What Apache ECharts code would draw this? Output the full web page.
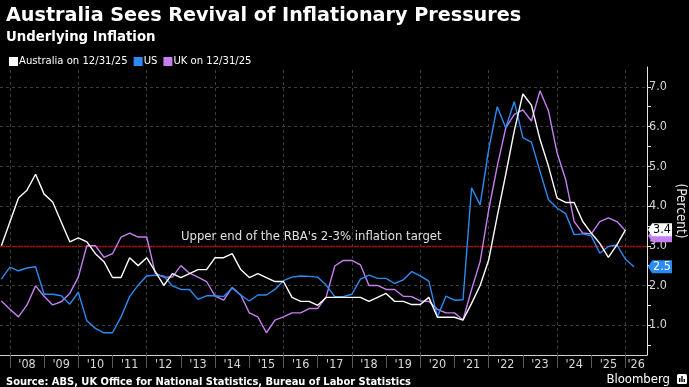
<!DOCTYPE html>
<html><head><meta charset="utf-8">
<script src="https://cdn.jsdelivr.net/npm/echarts@6/dist/echarts.min.js"></script>
<style>html,body{margin:0;padding:0;background:#000}#c{width:689px;height:387px}</style>
</head><body><div id="c"></div>
<script>
// ---- data ----
const quarterEnds = [
 '2007-09','2007-12',
 '2008-03','2008-06','2008-09','2008-12','2009-03','2009-06','2009-09','2009-12',
 '2010-03','2010-06','2010-09','2010-12','2011-03','2011-06','2011-09','2011-12',
 '2012-03','2012-06','2012-09','2012-12','2013-03','2013-06','2013-09','2013-12',
 '2014-03','2014-06','2014-09','2014-12','2015-03','2015-06','2015-09','2015-12',
 '2016-03','2016-06','2016-09','2016-12','2017-03','2017-06','2017-09','2017-12',
 '2018-03','2018-06','2018-09','2018-12','2019-03','2019-06','2019-09','2019-12',
 '2020-03','2020-06','2020-09','2020-12','2021-03','2021-06','2021-09','2021-12',
 '2022-03','2022-06','2022-09','2022-12','2023-03','2023-06','2023-09','2023-12',
 '2024-03','2024-06','2024-09','2024-12','2025-03','2025-06','2025-09','2025-12'
];
const usLatestDate = '2026-03';
const australia = [3.0,3.6,4.2,4.4,4.8,4.3,4.1,3.6,3.1,3.2,3.1,2.8,2.6,2.2,2.2,2.7,2.5,2.7,2.35,2.0,
 2.3,2.2,2.3,2.4,2.4,2.7,2.7,2.8,2.4,2.2,2.3,2.2,2.1,2.1,1.7,1.6,1.6,1.5,1.7,1.7,
 1.7,1.7,1.7,1.6,1.7,1.8,1.6,1.6,1.52,1.52,1.7,1.2,1.2,1.2,1.13,1.55,2.0,2.64,3.74,4.8,
 5.9,6.82,6.54,5.68,5.0,4.2,4.09,4.09,3.61,3.32,3.06,2.71,3.02,3.4];
const uk = [1.61,1.40,1.21,1.51,1.99,1.73,1.51,1.59,1.80,2.21,3.0,3.0,2.71,2.80,3.22,3.32,3.22,3.22,2.31,2.21,
 2.21,2.50,2.31,2.21,2.10,1.73,1.63,1.95,1.76,1.31,1.21,0.81,1.13,1.21,1.31,1.31,1.42,1.42,1.72,2.49,
 2.63,2.63,2.52,2.0,2.0,1.90,1.90,1.73,1.72,1.61,1.60,1.40,1.31,1.31,1.13,1.9,2.6,3.9,5.0,5.97,
 6.31,6.42,6.14,6.90,6.39,5.34,4.67,3.61,3.32,3.30,3.61,3.70,3.61,3.38];
const us = [2.16,2.46,2.37,2.44,2.47,1.78,1.78,1.74,1.53,1.83,1.11,0.92,0.81,0.81,1.21,1.72,2.01,2.24,2.26,2.24,
 1.99,1.90,1.90,1.65,1.74,1.74,1.72,1.93,1.76,1.61,1.76,1.76,1.90,2.12,2.21,2.24,2.23,2.21,2.01,1.72,
 1.72,1.78,2.16,2.26,2.18,2.18,2.05,2.14,2.35,2.24,2.11,1.21,1.73,1.63,1.64,4.46,4.03,5.42,6.50,5.97,
 6.63,5.72,5.61,4.88,4.16,3.95,3.81,3.28,3.30,3.25,2.81,2.98,3.02,2.66,2.47];
const seriesNames = ['Australia on 12/31/25', 'US', 'UK on 12/31/25'];
const yearLabels = ["'08","'09","'10","'11","'12","'13","'14","'15","'16","'17","'18","'19","'20","'21","'22","'23","'24","'25","'26"];
const labelYears = [2008,2009,2010,2011,2012,2013,2014,2015,2016,2017,2018,2019,2020,2021,2022,2023,2024,2025,2026];
const yLabelValues = [1,2,3,4,5,6,7];
const rbaTarget = 3;
const rbaText = "Upper end of the RBA's 2-3% inflation target";

// ---- helpers ----
const NARROW = "'Liberation Sans Narrow','Arial Narrow','DejaVu Sans Condensed','Roboto Condensed',sans-serif";
const toYear = s => { const [y, m] = s.split('-').map(Number); return y + m / 12; };
const X_MIN = 2007.71, X_MAX = 2026.63;
const Y_MIN = 0.25, Y_MAX = 7.5;
const pair = (dates, vals) => vals.map((v, i) => [toYear(dates[i]), v]);
const usDates = quarterEnds.concat([usLatestDate]);

const labelPos = labelYears.map(y => (Math.max(y, X_MIN) + Math.min(y + 1, X_MAX)) / 2);
const labelMap = {};
labelPos.forEach((p, i) => labelMap[p.toFixed(4)] = yearLabels[i]);
const tickYears = labelYears.slice();
const yTicks = []; for (let v = 0.5; v <= 7.0001; v += 0.5) yTicks.push(+v.toFixed(1));
const gridYears = labelYears.filter(y => y % 2 === 0);

const C_AUS = '#ffffff', C_US = '#2a8cf2', C_UK = '#c57ff0';

function tag(value, bg, fg, dy, showText) {
  return {
    coord: [X_MAX, value],
    symbol: 'path://M0,6 L5,0 L29,0 L29,12 L5,12 Z',
    symbolSize: [24, 13],
    symbolKeepAspect: false,
    symbolOffset: [13, dy],
    itemStyle: { color: bg },
    label: { show: showText, position: 'inside', offset: [2, 0], color: fg, fontSize: 12.5,
             fontFamily: NARROW, formatter: value.toFixed(1) }
  };
}

const chart = echarts.init(document.getElementById('c'), null, { renderer: 'canvas' });
const gridLines = [];
yLabelValues.forEach(v => gridLines.push({ yAxis: v }));
gridYears.forEach(y => gridLines.push({ xAxis: y }));
gridLines.push({ yAxis: rbaTarget, lineStyle: { color: '#c00000', type: [2, 1], width: 1.3 } });

chart.setOption({
  backgroundColor: '#000',
  animation: false,
  title: [
    { text: 'Australia Sees Revival of Inflationary Pressures', left: 1, top: 2,
      textStyle: { color: '#fff', fontSize: 19.2, fontWeight: 'bold', fontFamily: 'DejaVu Sans' } },
    { text: 'Underlying Inflation', left: 1, top: 26,
      textStyle: { color: '#fff', fontSize: 13.3, fontWeight: 'bold', fontFamily: 'DejaVu Sans' } },
    { text: 'Source: ABS, UK Office for National Statistics, Bureau of Labor Statistics', left: 1, top: 372,
      textStyle: { color: '#fff', fontSize: 11, fontWeight: 'bold', fontFamily: NARROW } }
  ],
  legend: {
    data: seriesNames, left: 4, top: 51, icon: 'rect', itemWidth: 9, itemHeight: 9, itemGap: 6,
    textStyle: { color: '#fff', fontSize: 11.2, fontFamily: NARROW, padding: [0, 0, 0, -4] },
    selectedMode: false
  },
  grid: { left: 0, right: 42, top: 67, bottom: 32, containLabel: false, outerBoundsMode: 'none' },
  xAxis: {
    type: 'value', min: X_MIN, max: X_MAX,
    axisLine: { show: true, onZero: false, lineStyle: { color: '#cfcfcf', width: 1 } },
    axisTick: { show: true, customValues: tickYears, length: 13, lineStyle: { color: '#5a5a5a' } },
    axisLabel: { customValues: labelPos, formatter: v => labelMap[v.toFixed(4)] || '',
                 color: '#d8d8d8', fontSize: 12.5, fontFamily: NARROW, margin: 3 },
    splitLine: { show: false }
  },
  yAxis: {
    type: 'value', position: 'right', min: Y_MIN, max: Y_MAX,
    axisLine: { show: true, lineStyle: { color: '#e6e6e6', width: 1 } },
    axisTick: { show: true, customValues: yTicks, length: 4, lineStyle: { color: '#e6e6e6' } },
    axisLabel: { customValues: yLabelValues, formatter: v => v.toFixed(1), color: '#d8d8d8',
                 fontSize: 12.5, fontFamily: NARROW, margin: 2 },
    splitLine: { show: false },
    name: '(Percent)', nameLocation: 'middle', nameRotate: -90, nameGap: 26, nameMoveOverlap: false,
    nameTextStyle: { color: '#e6e6e6', fontSize: 13.5, fontFamily: NARROW }
  },
  graphic: [
    { type: 'text', right: 19, top: 373, style: { text: 'Bloomberg', fill: '#fff', font: '13px ' + NARROW } },
    { type: 'group', right: 2, top: 374, children: [
      { type: 'rect', shape: { x: 0, y: 0, width: 10, height: 10, r: 1.5 }, style: { fill: '#fff' } },
      { type: 'rect', shape: { x: 2, y: 4, width: 1.4, height: 4 }, style: { fill: '#000' } },
      { type: 'rect', shape: { x: 4.3, y: 2, width: 1.4, height: 6 }, style: { fill: '#000' } },
      { type: 'rect', shape: { x: 6.6, y: 5, width: 1.4, height: 3 }, style: { fill: '#000' } }
    ] }
  ],
  series: [
    { name: 'grid', type: 'line', data: [], silent: true,
      markLine: { z: 1, silent: true, symbol: ['none', 'none'], label: { show: false },
        lineStyle: { color: '#3d3d3d', type: [3, 3], width: 1 }, data: gridLines },
      markPoint: { silent: true, data: [{ coord: [2013.0, rbaTarget], symbol: 'circle', symbolSize: 0.01,
        label: { show: true, position: 'top', align: 'left', distance: 3, formatter: rbaText,
                 color: '#e0e0e0', fontSize: 13, fontFamily: NARROW } }] } },
    { name: seriesNames[2], type: 'line', data: pair(quarterEnds, uk), showSymbol: false, z: 3,
      lineStyle: { color: C_UK, width: 1.4 }, itemStyle: { color: C_UK },
      markPoint: { silent: true, data: [tag(uk[uk.length - 1], C_UK, C_UK, 5, false)] } },
    { name: seriesNames[1], type: 'line', data: pair(usDates, us), showSymbol: false, z: 4,
      lineStyle: { color: C_US, width: 1.4 }, itemStyle: { color: C_US },
      markPoint: { silent: true, data: [tag(us[us.length - 1], C_US, '#fff', 0, true)] } },
    { name: seriesNames[0], type: 'line', data: pair(quarterEnds, australia), showSymbol: false, z: 5,
      lineStyle: { color: C_AUS, width: 1.4 }, itemStyle: { color: C_AUS },
      markPoint: { silent: true, data: [tag(australia[australia.length - 1], '#fff', '#000', 0, true)] } }
  ]
});
</script>
</body></html>
